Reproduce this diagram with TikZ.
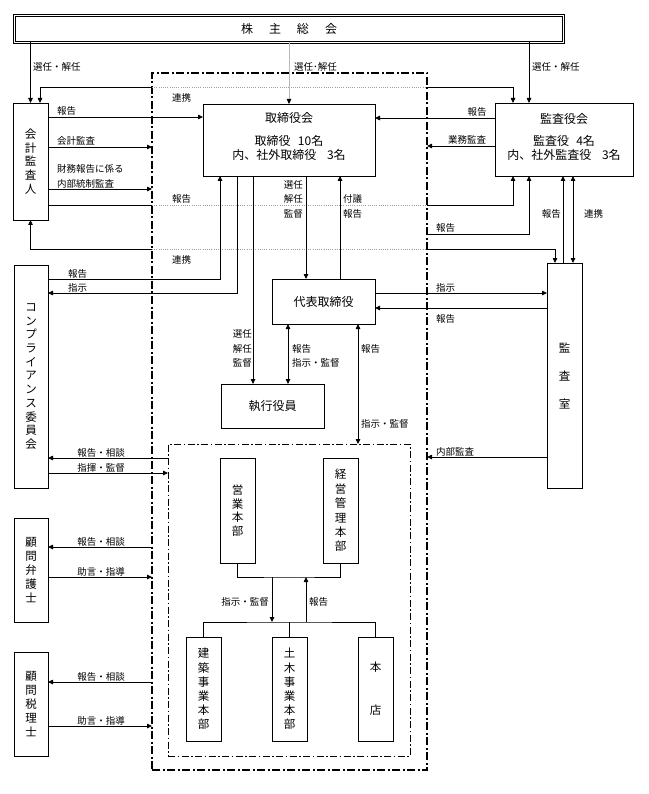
\documentclass[tikz,border=0pt]{standalone}
\usepackage{fontspec}
\setmainfont{Noto Sans CJK JP}
\usetikzlibrary{arrows.meta}
\begin{document}
\begin{tikzpicture}[x=1pt,y=-1pt,
  >={Triangle[length=5pt,width=4.5pt]},
  box/.style={draw, line width=0.8pt, inner sep=0pt, outer sep=0pt, align=center},
  vt/.style={font=\fontsize{11.5}{13.6}\selectfont},
  bt/.style={font=\fontsize{12}{14}\selectfont, inner sep=0pt},
  lab/.style={font=\fontsize{9.5}{12}\selectfont, inner sep=0pt},
  ln/.style={line width=0.8pt},
  arr/.style={ln,->},
  arrb/.style={ln,<->},
  dotl/.style={gray!75, line width=0.7pt, dash pattern=on 1pt off 1.2pt},
]
\useasboundingbox (0,0) rectangle (648,794);

% frames
\node[draw, line width=1.8pt, dash pattern=on 8pt off 2.5pt on 2pt off 2.5pt,
  minimum width=275pt, minimum height=697pt, inner sep=0pt, outer sep=0pt] (frame) at (289.5,421.5) {};
\node[draw, line width=0.8pt, dash pattern=on 7pt off 2.5pt on 1.5pt off 2.5pt,
  minimum width=242pt, minimum height=312pt, inner sep=0pt, outer sep=0pt] (grp) at (289,600) {};

% boxes
\node[box, bt, minimum width=549pt, minimum height=27pt, double=white, double distance=1.6pt, line width=0.6pt] (agm) at (289,29)
  {株\hspace{16pt}主\hspace{16pt}総\hspace{16pt}会};
\node[box, vt, minimum width=35pt, minimum height=117pt] (kaikei) at (30.5,161.5) {会\\計\\監\\査\\人};

\node[box, minimum width=172pt, minimum height=72pt] (tori) at (289,140) {};
\node[bt] (toriA) at (289,118) {取締役会};
\node[bt] (toriB) at (289,141) {取締役\hspace{0.6em}10名};
\node[bt] (toriC) at (289,155) {内、社外取締役\hspace{0.9em}3名};

\node[box, minimum width=138pt, minimum height=73pt] (kansayaku) at (564,139.5) {};
\node[bt] (ksA) at (564,119) {監査役会};
\node[bt] (ksB) at (564,141) {監査役\hspace{0.6em}4名};
\node[bt] (ksC) at (564,155) {内、社外監査役\hspace{0.9em}3名};

\node[box, bt, minimum width=103pt, minimum height=45pt] (daihyo) at (323.5,301.5) {代表取締役};
\node[box, bt, minimum width=103pt, minimum height=44pt] (shikko) at (272.5,406) {執行役員};

\node[box, font=\fontsize{11.5}{28}\selectfont, minimum width=35pt, minimum height=225pt] (kansashitsu) at (564.5,375.5) {監\\査\\室};
\node[box, font=\fontsize{11.5}{13.7}\selectfont, minimum width=34pt, minimum height=223pt] (comp) at (31,376.5)
  {コ\\ン\\プ\\ラ\\イ\\ア\\ン\\ス\\委\\員\\会};

\node[box, font=\fontsize{11.5}{13.5}\selectfont, minimum width=35pt, minimum height=105pt] (eigyo) at (237.5,510.5) {営\\業\\本\\部};
\node[box, font=\fontsize{11.5}{14.4}\selectfont, minimum width=35pt, minimum height=105pt] (keiei) at (340.5,510.5) {経\\営\\管\\理\\本\\部};
\node[box, font=\fontsize{11.5}{14.2}\selectfont, minimum width=35pt, minimum height=104pt] (kenchiku) at (203.5,689) {建\\築\\事\\業\\本\\部};
\node[box, font=\fontsize{11.5}{14.2}\selectfont, minimum width=35pt, minimum height=104pt] (doboku) at (289.5,689) {土\\木\\事\\業\\本\\部};
\node[box, font=\fontsize{11.5}{43}\selectfont, minimum width=35pt, minimum height=104pt] (honten) at (375.5,689) {本\\店};

\node[box, font=\fontsize{11.5}{14.2}\selectfont, minimum width=34pt, minimum height=104pt] (bengoshi) at (31,570) {顧\\問\\弁\\護\\士};
\node[box, font=\fontsize{11.5}{14.2}\selectfont, minimum width=34pt, minimum height=104pt] (zeirishi) at (31,704) {顧\\問\\税\\理\\士};

\coordinate (ubar) at (289.5,577);
\coordinate (lbar) at (289.5,622);

% --- connectors: top
\draw[arr] (kaikei.north |- agm.south) -- (kaikei.north);
\draw[arr] ([xshift=-35]kansayaku.north |- agm.south) -- ([xshift=-35]kansayaku.north);
\draw[gray!55, line width=0.5pt, -{Triangle[length=5pt,width=4.5pt,color=black]}] (tori.north |- agm.south) -- (tori.north);

% 連携 (top)
\draw[arr] (frame.west |- 0,87) -| ([xshift=9.5]kaikei.north);
\draw[dotl] (frame.west |- 0,87) -- (frame.east |- 0,87);
\draw[arr] (frame.east |- 0,87) -| ([xshift=-51]kansayaku.north);

% 会計監査人 rows
\draw[arr] (kaikei.east |- 0,117) -- (tori.west |- 0,117);
\draw[arr] (kaikei.east |- 0,147) -- (frame.west |- 0,147);
\draw[arr] (kaikei.east |- 0,189) -- (frame.west |- 0,189);
\draw[ln] (kaikei.east |- 0,205) -- (frame.west |- 0,205);
\draw[dotl] (frame.west |- 0,205) -- (frame.east |- 0,205);
\draw[arr] (frame.east |- 0,205) -| ([xshift=-51]kansayaku.south);
\draw[arr] (frame.west |- 0,249) -| (kaikei.south);
\draw[dotl] (frame.west |- 0,249) -- (frame.east |- 0,249);
\draw[arr] (frame.east |- 0,249) -| ([xshift=-9.5]kansashitsu.north);

% 監査役会 rows
\draw[arr] (kansayaku.west |- 0,118) -- (tori.east |- 0,118);
\draw[arr] (kansayaku.west |- 0,146) -- (frame.east |- 0,146);
\draw[arr] (frame.east |- 0,234) -| ([xshift=-35]kansayaku.south);
\draw[arr] ([xshift=-1.5]kansashitsu.north) -- ([xshift=-1.5]kansashitsu.north |- kansayaku.south);
\draw[arrb] ([xshift=8.5]kansashitsu.north) -- ([xshift=8.5]kansashitsu.north |- kansayaku.south);

% 取締役会 below
\draw[arr] (comp.east |- 0,279) -| ([xshift=-69]tori.south);
\draw[arr] ([xshift=-52]tori.south) |- (comp.east |- 0,293);
\draw[arr] ([xshift=-36]tori.south) -- ([xshift=-36]tori.south |- shikko.north);
\draw[arr] ([xshift=17]tori.south) -- ([xshift=17]tori.south |- daihyo.north);
\draw[arr] ([xshift=16.5]daihyo.north) -- ([xshift=16.5]daihyo.north |- tori.south);

% 代表取締役
\draw[arr] (daihyo.east |- 0,293) -- (kansashitsu.west |- 0,293);
\draw[arr] (kansashitsu.west |- 0,308) -- (daihyo.east |- 0,308);
\draw[arrb] ([xshift=-35.5]daihyo.south) -- ([xshift=-35.5]daihyo.south |- shikko.north);
\draw[arrb] ([xshift=34.5]daihyo.south) -- ([xshift=34.5]daihyo.south |- grp.north);
\draw[arr] (kansashitsu.west |- 0,457) -- (frame.east |- 0,457);

% compliance / advisers
\draw[arr] (grp.west |- 0,458) -- (comp.east |- 0,458);
\draw[arr] (comp.east |- 0,473) -- (grp.west |- 0,473);
\draw[arr] (frame.west |- 0,547) -- (bengoshi.east |- 0,547);
\draw[arr] (bengoshi.east |- 0,577) -- (frame.west |- 0,577);
\draw[arr] (frame.west |- 0,682) -- (zeirishi.east |- 0,682);
\draw[arr] (zeirishi.east |- 0,726) -- (frame.west |- 0,726);

% divisions
\draw[ln] (eigyo.south) |- (ubar) -| (keiei.south);
\draw[ln] (kenchiku.north) |- (lbar) -| (honten.north);
\draw[ln] (doboku.north) -- (lbar);
\draw[arr] ([xshift=-17.5]ubar) -- ([xshift=-17.5]lbar);
\draw[arr] ([xshift=16.5]lbar) -- ([xshift=16.5]ubar);

% --- labels
\node[lab, anchor=base west] (t1) at (33,71) {選任・解任};
\node[lab, anchor=base west] (t2) at (294,71) {選任･解任};
\node[lab, anchor=base west] (t3) at (532,71) {選任・解任};
\node[lab, anchor=base west] (t4) at (172,102) {連携};

\node[lab, anchor=base west] (a1) at (57,115) {報告};
\node[lab, anchor=base west] (a2) at (57,145) {会計監査};
\node[lab, anchor=base west] (a3) at (57,173) {財務報告に係る};
\node[lab, anchor=base west] (a4) at (57,187.5) {内部統制監査};
\node[lab, anchor=base west] (a5) at (172,203) {報告};
\node[lab, anchor=base west] (a6) at (172,263) {連携};

\node[lab, anchor=base] (b1) at (477,116) {報告};
\node[lab, anchor=base] (b2) at (467,144) {業務監査};
\node[lab, anchor=base west] (b3) at (436,232) {報告};
\node[lab, anchor=base east] (b4) at (561,218) {報告};
\node[lab, anchor=base west] (b5) at (584,218) {連携};
\node[lab, anchor=base west] (b6) at (436,291) {指示};
\node[lab, anchor=base west] (b7) at (436,322) {報告};
\node[lab, anchor=base west] (b8) at (436,455) {内部監査};

\node[lab, anchor=base east] (c1) at (303,189) {選任};
\node[lab, anchor=base east] (c2) at (303,203) {解任};
\node[lab, anchor=base east] (c3) at (303,218) {監督};
\node[lab, anchor=base west] (c4) at (343,203) {付議};
\node[lab, anchor=base west] (c5) at (343,218) {報告};

\node[lab, anchor=base east] (d1) at (252,337) {選任};
\node[lab, anchor=base east] (d2) at (252,352) {解任};
\node[lab, anchor=base east] (d3) at (252,366) {監督};
\node[lab, anchor=base west] (d4) at (292,352) {報告};
\node[lab, anchor=base west] (d5) at (292,366) {指示・監督};
\node[lab, anchor=base west] (d6) at (361,352) {報告};
\node[lab, anchor=base west] (d7) at (361,427) {指示・監督};

\node[lab, anchor=base west] (e1) at (68,277) {報告};
\node[lab, anchor=base west] (e2) at (68,291) {指示};
\node[lab, anchor=base] (e3) at (101,456) {報告・相談};
\node[lab, anchor=base] (e4) at (101,471) {指揮・監督};
\node[lab, anchor=base] (e5) at (101,545) {報告・相談};
\node[lab, anchor=base] (e6) at (101,575) {助言・指導};
\node[lab, anchor=base] (e7) at (101,680) {報告・相談};
\node[lab, anchor=base] (e8) at (101,724) {助言・指導};

\node[lab, anchor=base east] (f1) at (269,605) {指示・監督};
\node[lab, anchor=base west] (f2) at (309,605) {報告};
\end{tikzpicture}
\end{document}
